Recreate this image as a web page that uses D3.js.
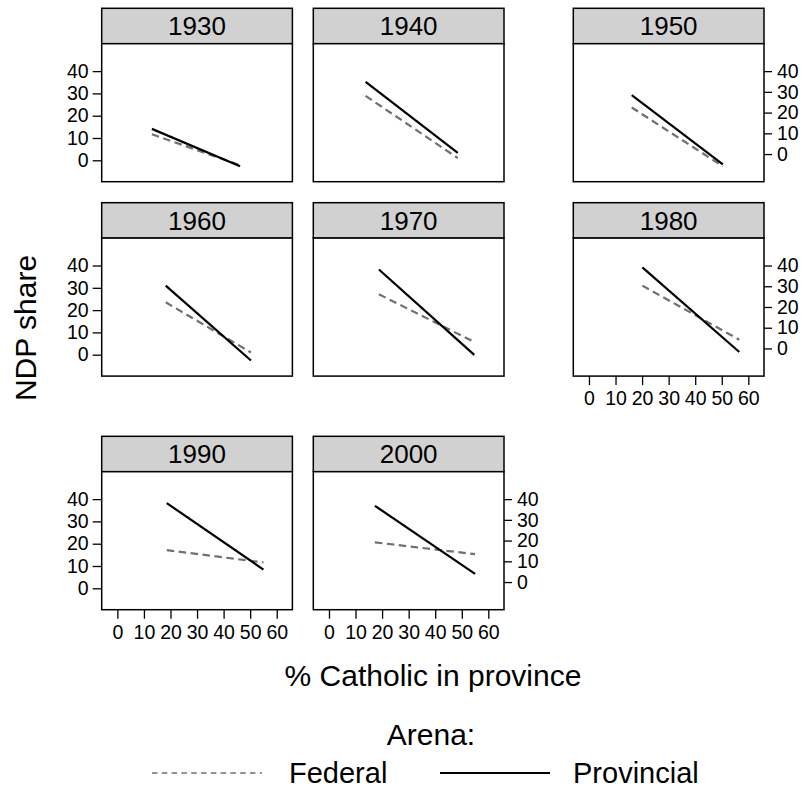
<!DOCTYPE html>
<meta charset="utf-8">
<style>
  body { margin: 0; background: #fff; }
  svg { display: block; font-family: "Liberation Sans", Arial, Helvetica, sans-serif; }
  .panel { fill: #fff; stroke: #000; stroke-width: 1.5; }
  .strip { fill: #d1d1d1; stroke: #000; stroke-width: 1.5; }
  .axis path { display: none; }
  .axis line { stroke: #000; stroke-width: 1.3; }
  .axis text { font-size: 19.5px; fill: #000; font-family: "Liberation Sans", Arial, sans-serif; }
  .fed { stroke: #707070; stroke-width: 2.2; stroke-dasharray: 7.5 4.5; fill: none; }
  .prov { stroke: #000; stroke-width: 2.2; fill: none; }
</style>
<body>
<svg width="805" height="788"></svg>
</body>
<script src="https://d3js.org/d3.v7.min.js"></script>
<script>
  // values (regression lines per decade)
  var years = ["1930", "1940", "1950", "1960", "1970", "1980", "1990", "2000"];
  var xStart = [13.0, 13.8, 16.1, 18.2, 18.8, 20.1, 18.6, 17.3];
  var xEnd = [46.2, 48.5, 50.4, 50.3, 54.7, 56.6, 55.0, 55.0];
  var provStart = [14.1, 35.2, 29.2, 31.0, 38.2, 39.2, 38.2, 37.0];
  var provEnd = [-2.7, 3.3, -1.8, -2.6, -0.1, 1.2, 8.4, 6.5];
  var fedStart = [11.7, 28.9, 23.7, 23.5, 27.1, 31.0, 17.1, 20.6];
  var fedEnd = [-2.2, 1.0, -2.7, 1.0, 5.7, 6.7, 11.6, 15.3];
  var xTicks = [0, 10, 20, 30, 40, 50, 60];
  var yTicks = [0, 10, 20, 30, 40];

  var svg = d3.select("svg");

  var colLeft = [101.7, 313.3, 573.3],
    stripTop = [8.3, 202.7, 436.3],
    stripH = 35.4,
    panelW = 190.7,
    panelH = 138;

  var x = d3.scaleLinear().domain([-5.9, 65.9]).range([0, panelW]);
  var y = d3.scaleLinear().domain([-9.6, 52.3]).range([panelH, 0]);
  // the right-hand axis in the reference is a little squeezed
  var yR = d3.scaleLinear().domain([0, 40])
    .range([y(40) + 0.93 * (y(0) - y(40)), y(40)]);

  var line = d3.line()
    .x(function (d) { return x(d[0]); })
    .y(function (d) { return y(d[1]); });

  years.forEach(function (yr, i) {
    var row = Math.floor(i / 3), col = i % 3;
    var g = svg.append("g")
      .attr("transform", "translate(" + colLeft[col] + "," + (stripTop[row] + stripH) + ")");

    // strip
    g.append("rect").attr("class", "strip")
      .attr("x", 0).attr("y", -stripH).attr("width", panelW).attr("height", stripH);
    g.append("text")
      .attr("x", panelW / 2).attr("y", -stripH / 2)
      .attr("dy", "0.36em")
      .attr("text-anchor", "middle")
      .style("font-size", "26px")
      .text(yr);

    g.append("rect").attr("class", "panel")
      .attr("width", panelW).attr("height", panelH);

    g.append("path").attr("class", "fed")
      .attr("d", line([[xStart[i], fedStart[i]], [xEnd[i], fedEnd[i]]]));
    g.append("path").attr("class", "prov")
      .attr("d", line([[xStart[i], provStart[i]], [xEnd[i], provEnd[i]]]));

    if (col == 0) {
      g.append("g").attr("class", "axis")
        .call(d3.axisLeft(y).tickValues(yTicks).tickSize(9).tickPadding(4));
    }
    if (col == 2 || yr == "2000") {
      g.append("g").attr("class", "axis")
        .attr("transform", "translate(" + panelW + ",0)")
        .call(d3.axisRight(yR).tickValues(yTicks).tickSize(8).tickPadding(5));
    }
    if (yr == "1980" || yr == "1990" || yr == "2000") {
      g.append("g").attr("class", "axis")
        .attr("transform", "translate(0," + panelH + ")")
        .call(d3.axisBottom(x).tickValues(xTicks).tickSize(9).tickPadding(6));
    }
  });

  // axis titles
  svg.append("text")
    .attr("transform", "translate(36,328) rotate(-90)")
    .attr("text-anchor", "middle")
    .style("font-size", "30px")
    .text("NDP share");

  svg.append("text")
    .attr("x", 433).attr("y", 686)
    .attr("text-anchor", "middle")
    .style("font-size", "30px")
    .text("% Catholic in province");

  // legend
  svg.append("text")
    .attr("x", 431).attr("y", 745)
    .attr("text-anchor", "middle")
    .style("font-size", "30px")
    .text("Arena:");

  var legend = svg.append("g").attr("transform", "translate(0,773)");
  legend.append("line")
    .attr("x1", 152).attr("x2", 262)
    .attr("stroke", "#707070").attr("stroke-width", 1.6)
    .attr("stroke-dasharray", "5.5 4.3");
  legend.append("text").attr("x", 289).attr("dy", "0.34em")
    .style("font-size", "29px").text("Federal");
  legend.append("line")
    .attr("x1", 440).attr("x2", 550)
    .attr("stroke", "#000").attr("stroke-width", 2);
  legend.append("text").attr("x", 573).attr("dy", "0.34em")
    .style("font-size", "29px").text("Provincial");
</script>
